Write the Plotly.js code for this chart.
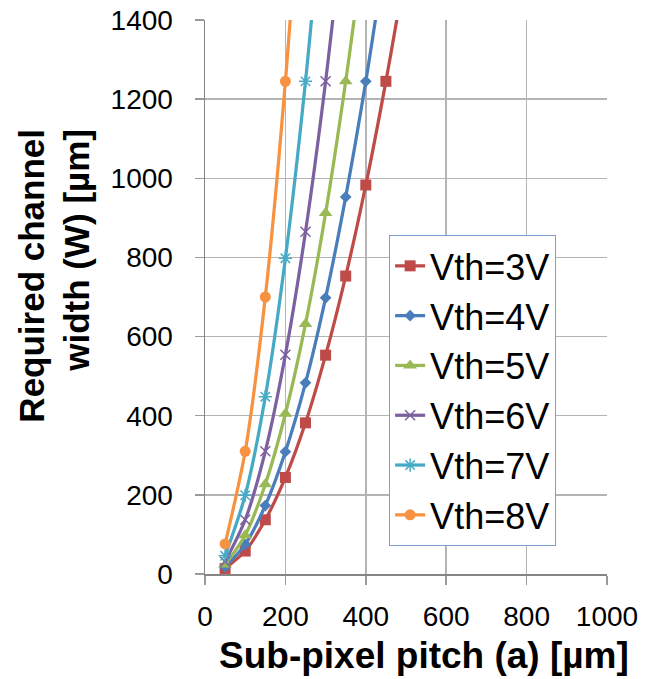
<!DOCTYPE html>
<html>
<head>
<meta charset="utf-8">
<script src="https://cdn.plot.ly/plotly-3.0.1.min.js"></script>
<style>
  html, body { margin: 0; padding: 0; background: #ffffff; }
  #chart { width: 645px; height: 679px; }
</style>
</head>
<body>
<div id="chart"></div>
<script>
// Sub-pixel pitch a [µm] at which each curve is sampled
const pitch = [50, 100, 150, 200, 250, 300, 350, 400, 450, 500];

// Required channel width W [µm] for each threshold voltage
const w_vth3 = [14, 58, 137, 244, 382, 553, 753, 983, 1245, 1535];
const w_vth4 = [18, 75, 173, 309, 483, 698, 953, 1245, 1575];
const w_vth5 = [24, 98, 227, 405, 632, 912, 1245, 1625];
const w_vth6 = [31, 137, 310, 554, 865, 1245, 1695];
const w_vth7 = [46, 199, 448, 798, 1245, 1790];
const w_vth8 = [76, 310, 700, 1245, 1945];

const seriesNames = ['Vth=3V', 'Vth=4V', 'Vth=5V', 'Vth=6V', 'Vth=7V', 'Vth=8V'];
const seriesValues = [w_vth3, w_vth4, w_vth5, w_vth6, w_vth7, w_vth8];

const xTicks = [0, 200, 400, 600, 800, 1000];
const yTicks = [0, 200, 400, 600, 800, 1000, 1200, 1400];

const colors = ['#BE4B48', '#4A7EBB', '#98B954', '#7D60A0', '#46AAC5', '#F69240'];
const markerStyles = [
  { symbol: 'square', size: 11 },
  { symbol: 'diamond', size: 9 },
  { symbol: 'triangle-up', size: 12 },
  { symbol: 'x-thin-open', size: 10 },
  { symbol: 'asterisk-open', size: 11 },
  { symbol: 'circle', size: 11 }
];

const FONT = '"Liberation Sans", Arial, sans-serif';

const traces = seriesValues.map((vals, i) => {
  const open = markerStyles[i].symbol.endsWith('-open');
  return {
    type: 'scatter',
    mode: 'lines+markers',
    name: seriesNames[i],
    legendgroup: 'g' + i,
    x: pitch.slice(0, vals.length),
    y: vals,
    line: { color: colors[i], width: 3.25, shape: 'spline', smoothing: 0.8 },
    marker: {
      symbol: markerStyles[i].symbol,
      size: markerStyles[i].size,
      color: colors[i],
      line: { color: colors[i], width: open ? 1.5 : 0 }
    },
    cliponaxis: true
  };
});

const layout = {
  width: 645,
  height: 679,
  margin: { l: 205, r: 38, t: 20, b: 105, pad: 0 },
  paper_bgcolor: '#ffffff',
  plot_bgcolor: '#ffffff',
  showlegend: true,
  font: { family: FONT, color: '#000000' },
  xaxis: {
    range: [0, 1000],
    tickvals: xTicks,
    ticktext: xTicks.map(String),
    showgrid: true,
    gridcolor: '#B4B4B4',
    gridwidth: 1.5,
    zeroline: false,
    showline: true,
    linecolor: '#868686',
    linewidth: 1.5,
    ticks: 'outside',
    ticklen: 9,
    tickwidth: 1.5,
    tickcolor: '#9A9A9A',
    ticklabelstandoff: 8,
    tickfont: { family: FONT, size: 28, color: '#000000' },
    fixedrange: true
  },
  yaxis: {
    range: [0, 1400],
    tickvals: yTicks,
    ticktext: yTicks.map(String),
    showgrid: true,
    gridcolor: '#B4B4B4',
    gridwidth: 1.5,
    zeroline: false,
    showline: true,
    linecolor: '#868686',
    linewidth: 1.5,
    ticks: 'outside',
    ticklen: 9,
    tickwidth: 1.5,
    tickcolor: '#9A9A9A',
    ticklabelstandoff: 16,
    tickfont: { family: FONT, size: 28, color: '#000000' },
    fixedrange: true
  },
  legend: {
    x: 0.458,
    y: 0.612,
    xanchor: 'left',
    yanchor: 'top',
    bgcolor: '#ffffff',
    bordercolor: '#7A9FD0',
    borderwidth: 1,
    font: { family: FONT, size: 36, color: '#000000' },
    traceorder: 'grouped',
    tracegroupgap: 0,
    itemwidth: 30
  },
  annotations: [
    {
      text: 'Sub-pixel pitch (a) [µm]',
      xref: 'paper', yref: 'paper',
      x: 0.545, y: -0.148,
      xanchor: 'center', yanchor: 'middle',
      showarrow: false,
      font: { family: FONT, size: 37, weight: 'bold', color: '#000000' }
    },
    {
      text: 'Required channel<br>width (W) [µm]',
      xref: 'paper', yref: 'paper',
      x: -0.375, y: 0.539,
      xanchor: 'center', yanchor: 'middle',
      textangle: -90,
      align: 'right',
      showarrow: false,
      font: { family: FONT, size: 35, weight: 'bold', color: '#000000' }
    }
  ]
};

Plotly.newPlot('chart', traces, layout, { staticPlot: true, displayModeBar: false });
</script>
</body>
</html>
